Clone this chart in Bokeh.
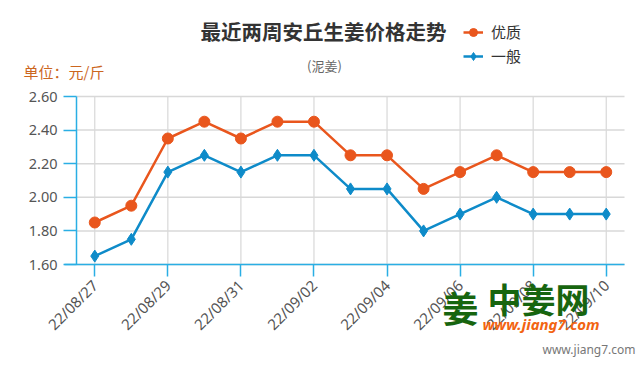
from bokeh.plotting import figure
from bokeh.models import (ColumnDataSource, Range1d, FixedTicker, Label,
                          Legend, LegendItem, PrintfTickFormatter, LinearAxis)
from bokeh.embed import file_html
from bokeh.resources import INLINE
from math import pi

# ---- data ----
dates = ["22/08/27", "22/08/28", "22/08/29", "22/08/30", "22/08/31",
         "22/09/01", "22/09/02", "22/09/03", "22/09/04", "22/09/05",
         "22/09/06", "22/09/07", "22/09/08", "22/09/09", "22/09/10"]
premium = [1.85, 1.95, 2.35, 2.45, 2.35, 2.45, 2.45, 2.25, 2.25, 2.05,
           2.15, 2.25, 2.15, 2.15, 2.15]
general = [1.65, 1.75, 2.15, 2.25, 2.15, 2.25, 2.25, 2.05, 2.05, 1.80,
           1.90, 2.00, 1.90, 1.90, 1.90]
y_ticks = [1.60, 1.80, 2.00, 2.20, 2.40, 2.60]
series_names = ["优质", "一般"]
title_text = "最近两周安丘生姜价格走势"
subtitle_text = "(泥姜)"
unit_text = "单位：元/斤"
brand_text = "中姜网"
site_text = "www.jiang7.com"

idx = list(range(len(dates)))
x_ticks = idx[::2]

# ---- layout (pixels) ----
W, H = 640, 371
PL, PR, PT, PB = 76, 624, 96, 264       # plot area edges on the canvas
x_lo, x_hi = -0.5, len(dates) - 0.5
y_lo, y_hi = y_ticks[0], y_ticks[-1]
px_x = (PR - PL) / (x_hi - x_lo)
px_y = (PB - PT) / (y_hi - y_lo)

ORANGE = "#E9561D"
BLUE = "#0E8BC9"
AXIS = "#2AAEE4"
GRID = "#d8d8d8"
CJK = "Noto Sans CJK SC"

src = ColumnDataSource(dict(x=idx, premium=premium, general=general))

p = figure(width=W, height=H, output_backend="svg", toolbar_location=None,
           x_range=Range1d(x_lo - PL / px_x, x_hi + (W - PR) / px_x),
           y_range=Range1d(y_lo - (H - PB) / px_y, y_hi + PT / px_y),
           x_axis_location=None, y_axis_location=None,
           min_border=0)
p.outline_line_color = None
p.background_fill_color = "white"
p.border_fill_color = "white"
p.xgrid.visible = False
p.ygrid.visible = False

# grid lines limited to the plot area
p.segment(x0=x_ticks, x1=x_ticks, y0=[y_lo] * len(x_ticks), y1=[y_hi] * len(x_ticks),
          line_color=GRID, line_width=1.2)
p.segment(x0=[x_lo] * len(y_ticks), x1=[x_hi] * len(y_ticks), y0=y_ticks, y1=y_ticks,
          line_color=GRID, line_width=1.5)

# axes
xaxis = LinearAxis(fixed_location=y_lo, bounds=(x_lo - 12 / px_x, x_hi),
                   ticker=FixedTicker(ticks=x_ticks),
                   major_label_overrides={i: dates[i] for i in x_ticks},
                   major_label_orientation=pi / 4)
yaxis = LinearAxis(fixed_location=x_lo, bounds=(y_lo, y_hi),
                   ticker=FixedTicker(ticks=y_ticks),
                   formatter=PrintfTickFormatter(format="%.2f"))
for ax in (xaxis, yaxis):
    ax.axis_line_color = AXIS
    ax.axis_line_width = 1.5
    ax.major_tick_line_color = AXIS
    ax.major_tick_line_width = 1.5
    ax.major_tick_in = 0
    ax.minor_tick_line_color = None
    ax.major_label_text_color = "#555555"
    ax.major_label_text_font = "Noto Sans"
xaxis.major_tick_out = 12
xaxis.major_label_text_font_size = "15px"
xaxis.major_label_standoff = 6
yaxis.major_tick_out = 13
yaxis.major_label_text_font_size = "14.5px"
yaxis.major_label_standoff = 6
p.add_layout(xaxis, "below")
p.add_layout(yaxis, "left")

# series
l1 = p.line("x", "premium", source=src, line_color=ORANGE, line_width=2.5)
s1 = p.scatter("x", "premium", source=src, marker="circle", size=11,
               fill_color=ORANGE, line_color=ORANGE)
l2 = p.line("x", "general", source=src, line_color=BLUE, line_width=2.5)
s2 = p.scatter("x", "general", source=src, marker="diamond", size=12,
               fill_color=BLUE, line_color=BLUE)

legend = Legend(items=[LegendItem(label=series_names[0], renderers=[l1, s1]),
                       LegendItem(label=series_names[1], renderers=[l2, s2])],
                location=(463, H - 66), orientation="vertical",
                padding=0, margin=0, spacing=3,
                glyph_width=20, glyph_height=20, label_standoff=8,
                border_line_color=None, background_fill_alpha=0,
                label_text_font=CJK, label_text_font_size="15px",
                label_text_color="#333333")
p.add_layout(legend, "center")

# texts (x, y given as canvas pixels from the top-left)
def add_text(txt, x, y, size, color, font=CJK, style="normal", align="left"):
    p.add_layout(Label(x=x, y=H - y, x_units="screen", y_units="screen", text=txt,
                       text_font=font, text_font_size=size, text_color=color,
                       text_font_style=style, text_align=align,
                       text_baseline="middle"))

add_text(title_text, 323, 30, "20.5px", "#333333", style="bold", align="center")
add_text(subtitle_text, 324, 65, "13px", "#666666", align="center")
add_text(unit_text, 23, 71, "15px", "#CC661E")
# watermark
add_text("姜", 442, 306, "36px", "#17650F", style="bold")
add_text(brand_text, 487, 298, "34px", "#17650F", style="bold")
add_text(site_text, 482, 323, "15px", "#F26412", font="Noto Sans", style="bold italic")
add_text(site_text, 542, 349, "12px", "#777777", font="Noto Sans")

open("out.html", "w").write(file_html(p, INLINE))
